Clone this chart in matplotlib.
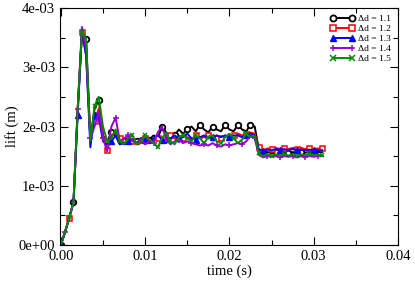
import numpy as np
import matplotlib
matplotlib.use("Agg")
import matplotlib.pyplot as plt
from matplotlib.ticker import MultipleLocator, FuncFormatter

plt.rcParams['font.family'] = ['Liberation Serif', 'DejaVu Serif']
plt.rcParams['mathtext.fontset'] = 'stix'

# time grid (s)
time = np.round(np.arange(0, 0.03101, 0.0005), 4)

# lift values in units of 1e-3 m
lift_11 = [0, 0.22, 0.47, 0.72, 2.3, 3.58, 3.48, 1.75, 2.3, 2.45, 1.85, 1.75, 1.9, 1.85, 1.7,
           1.75, 1.8, 1.72, 1.75, 1.8, 1.72, 1.78, 1.85, 1.8, 2.0, 1.9, 1.8, 1.85, 1.95, 1.88,
           1.95, 2.0, 1.92, 2.03, 1.95, 1.9, 2.0, 1.95, 1.92, 2.03, 1.95, 1.92, 2.03, 1.95, 1.92,
           2.03, 2.0, 1.6, 1.55, 1.57, 1.55, 1.57, 1.55, 1.57, 1.55, 1.57, 1.55, 1.57, 1.56, 1.57,
           1.56, 1.57, 1.57]
lift_12 = [0, 0.22, 0.46, 0.72, 2.3, 3.6, 3.2, 1.8, 2.1, 2.3, 1.85, 1.6, 1.85, 1.9, 1.8,
           1.7, 1.82, 1.75, 1.7, 1.72, 1.8, 1.75, 1.78, 1.8, 1.75, 1.78, 1.85, 1.8, 1.75, 1.8,
           1.82, 1.78, 1.85, 1.8, 1.82, 1.85, 1.8, 1.85, 1.8, 1.85, 1.8, 1.85, 1.88, 1.85, 1.88,
           1.9, 1.88, 1.65, 1.6, 1.63, 1.62, 1.64, 1.62, 1.64, 1.62, 1.64, 1.62, 1.64, 1.62, 1.64,
           1.62, 1.63, 1.63]
lift_13 = [0, 0.22, 0.46, 0.72, 2.2, 3.6, 3.2, 1.65, 2.2, 2.15, 1.75, 1.7, 1.75, 1.85, 1.7,
           1.72, 1.75, 1.78, 1.72, 1.8, 1.78, 1.72, 1.8, 1.85, 1.78, 1.72, 1.8, 1.85, 1.8, 1.82,
           1.88, 1.8, 1.78, 1.82, 1.85, 1.8, 1.82, 1.85, 1.82, 1.85, 1.82, 1.85, 1.85, 1.82, 1.85,
           1.88, 1.85, 1.62, 1.58, 1.61, 1.6, 1.62, 1.6, 1.62, 1.6, 1.62, 1.6, 1.61, 1.6, 1.61,
           1.6, 1.6, 1.6]
lift_14 = [0, 0.22, 0.46, 0.72, 2.3, 3.68, 3.3, 1.8, 2.0, 2.25, 1.8, 1.58, 2.0, 2.15, 1.75,
           1.8, 1.85, 1.75, 1.72, 1.78, 1.7, 1.75, 1.72, 1.9, 2.0, 1.8, 1.7, 1.75, 1.78, 1.72,
           1.75, 1.72, 1.7, 1.68, 1.7, 1.68, 1.72, 1.68, 1.66, 1.7, 1.68, 1.7, 1.72, 1.7, 1.75,
           1.85, 1.8, 1.52, 1.48, 1.5, 1.49, 1.5, 1.48, 1.5, 1.49, 1.5, 1.48, 1.5, 1.49, 1.5,
           1.49, 1.5, 1.5]
lift_15 = [0, 0.22, 0.47, 0.72, 2.3, 3.6, 3.48, 1.75, 2.35, 2.5, 2.0, 1.75, 1.8, 1.95, 1.75,
           1.7, 1.8, 1.85, 1.7, 1.75, 1.85, 1.78, 1.72, 1.65, 1.8, 1.9, 1.75, 1.7, 1.82, 1.85,
           1.8, 1.75, 1.85, 1.8, 1.72, 1.82, 1.85, 1.75, 1.72, 1.82, 1.88, 1.8, 1.72, 1.78, 1.88,
           1.82, 1.85, 1.55, 1.5, 1.53, 1.51, 1.53, 1.51, 1.53, 1.51, 1.53, 1.51, 1.53, 1.52, 1.53,
           1.52, 1.52, 1.52]

labels = ["Δd = 1.1", "Δd = 1.2", "Δd = 1.3", "Δd = 1.4", "Δd = 1.5"]
series = [lift_11, lift_12, lift_13, lift_14, lift_15]

styles = [
    dict(color="black", marker="o", mfc="white", mew=1.3, ms=4.0, markevery=3),
    dict(color="#ff0000", marker="s", mfc="white", mew=1.1, ms=3.6, markevery=(2, 3)),
    dict(color="#0000ff", marker="^", mfc="#0000ff", mew=1.0, ms=4.2, markevery=4),
    dict(color="#9400d3", marker="+", mew=1.1, ms=4.5, markevery=(1, 3)),
    dict(color="#008b00", marker="x", mew=1.1, ms=3.5, markevery=(2, 3)),
]

fig = plt.figure(figsize=(4.15, 2.82), dpi=100)
ax = fig.add_axes([0.1446, 0.131, 0.8144, 0.8406])

for vals, lab, st in zip(series, labels, styles):
    ax.plot(time, np.array(vals) * 1e-3, lw=1.4, label=lab, **st)

ax.set_xlim(-0.0001, 0.04)
ax.set_ylim(0, 0.004)
ax.xaxis.set_major_locator(MultipleLocator(0.01))
ax.xaxis.set_minor_locator(MultipleLocator(0.005))
ax.yaxis.set_major_locator(MultipleLocator(0.001))
ax.yaxis.set_minor_locator(MultipleLocator(0.0005))
ax.xaxis.set_major_formatter(FuncFormatter(lambda v, p: f"{v:.2f}"))
ax.yaxis.set_major_formatter(FuncFormatter(lambda v, p: f"{v:.0e}"))
ax.tick_params(which="both", direction="in", top=True, right=True, labelsize=10.5, width=0.8)
ax.tick_params(which="major", length=6)
ax.tick_params(which="minor", length=3.5)
for s in ax.spines.values():
    s.set_linewidth(0.8)

ax.set_xlabel("time (s)", fontsize=10.5, labelpad=1)
ax.set_ylabel("lift (m)", fontsize=10.5, labelpad=0)

leg = ax.legend(loc="upper right", fontsize=6.8, frameon=False, numpoints=2,
                handlelength=2.6, handletextpad=0.4, labelspacing=0.15,
                borderaxespad=0.3, markerscale=1.1)

fig.savefig("out.png", dpi=100)
